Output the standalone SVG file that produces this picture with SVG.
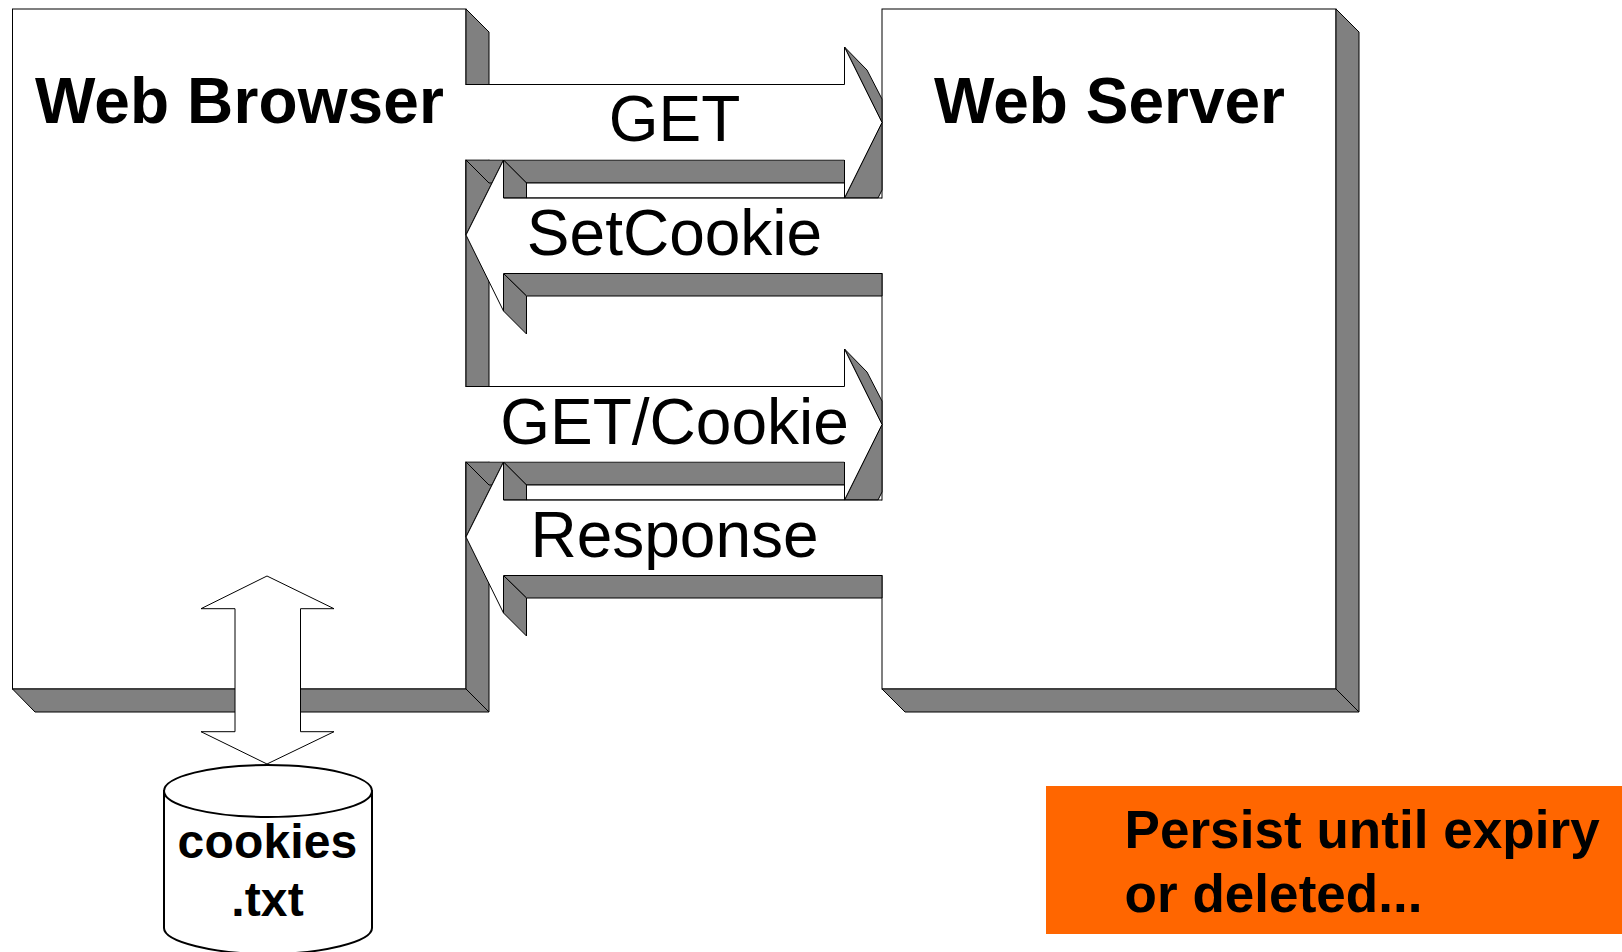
<svg xmlns="http://www.w3.org/2000/svg" xmlns:xlink="http://www.w3.org/1999/xlink" width="1622" height="952" viewBox="0 0 1622 952">
<style>
.g{fill:#808080;stroke:#000;stroke-width:1;stroke-linejoin:miter}
.w{fill:#fff;stroke:#000;stroke-width:1}
.f{fill:#fff;stroke:none}
.l{fill:none;stroke:#000;stroke-width:1}
text{font-family:"Liberation Sans",Arial,sans-serif;fill:#000}
.t{font-size:64px;font-weight:700}
.a{font-size:64px;text-anchor:middle}
.c{font-size:48px;font-weight:700;text-anchor:middle;letter-spacing:.15px}
.n{font-size:53px;font-weight:700;letter-spacing:.05px}
</style>
<defs>
<g id="pair">
<polygon class="g" points="844.500,47 867,70 882,99 882,122.5"/>
<polygon class="g" points="503.500,160 844.500,160 844.500,183 526.500,183"/>
<polygon class="g" points="503.500,160 526.500,183 526.500,198 503.500,198"/>
<polygon class="g" points="466,160 503.500,160 466,235"/>
<path class="l" d="M466,160L489,183H493"/>
<rect class="w" x="526.500" y="183" width="318" height="15"/>
<polygon class="g" points="844.500,198 882,122.5 882,190 878,198"/>
<polygon class="f" points="465,85 844.500,85 844.500,47 882,122.5 844.500,198 844.500,159.500 465,159.500"/>
<path class="l" d="M466,84.500H844.500V47L882,122.500L844.500,198V160"/>
<polygon class="g" points="503.500,273.500 882,273.500 882,296 526.500,296"/>
<polygon class="g" points="503.500,273.500 526.500,296 526.500,334 503.500,311"/>
<polygon class="f" points="883,198.500 503.500,198.500 503.500,160 466,235 503.500,311 503.500,273 883,273"/>
<path class="l" d="M882,198H503.500V160L466,235L503.500,311V273.500"/>
</g>
</defs>
<g id="web-server">
<rect class="w" x="882" y="9" width="454" height="680"/>
<polygon class="g" points="1336,9 1359,32 1359,712 1336,689"/>
<polygon class="g" points="882,689 905,712 1359,712 1336,689"/>
<text class="t" x="934" y="123">Web Server</text>
</g>
<g id="web-browser">
<rect class="w" x="12.500" y="9" width="453.500" height="680"/>
<polygon class="g" points="466,9 489,32 489,712 466,689"/>
<polygon class="g" points="12.500,689 35,712 489,712 466,689"/>
<text class="t" x="35" y="123" style="letter-spacing:.1px">Web Browser</text>
</g>
<g id="connectors">
<use xlink:href="#pair" href="#pair"/>
<use xlink:href="#pair" href="#pair" y="302"/>
<polygon class="w" points="267,576 334,608.700 300.500,608.700 300.500,731.700 334,731.700 267,764 201,731.700 235,731.700 235,608.700 201,608.700"/>
<text class="a" x="674.500" y="141">GET</text>
<text class="a" x="674.500" y="255">SetCookie</text>
<text class="a" x="674.500" y="444">GET/Cookie</text>
<text class="a" x="674.500" y="557">Response</text>
</g>
<g id="cookies">
<path d="M164,790V928C164,942 215,954 268,954C321,954 372,942 372,928V790" fill="#fff" stroke="#000" stroke-width="2"/>
<ellipse cx="268" cy="791" rx="104" ry="26" fill="#fff" stroke="#000" stroke-width="2"/>
<text class="c" x="267.500" y="858">cookies</text>
<text class="c" x="267.500" y="916">.txt</text>
</g>
<g id="note">
<rect x="1046" y="786" width="576" height="148" fill="#f60"/>
<text class="n" x="1124.500" y="848">Persist until expiry</text>
<text class="n" x="1124.500" y="912">or deleted...</text>
</g>
</svg>
